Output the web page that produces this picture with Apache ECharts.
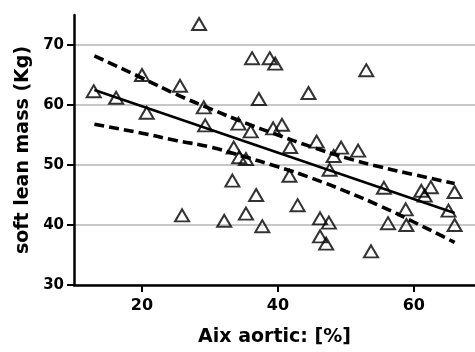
<!DOCTYPE html>
<html>
<head>
<meta charset="utf-8">
<script src="https://cdn.jsdelivr.net/npm/echarts@6/dist/echarts.min.js"></script>
<style>
    html, body { margin: 0; padding: 0; background: #fff; }
    #chart { width: 475px; height: 352px; }
</style>
</head>
<body>
<div id="chart"></div>
<script>
    // measured points: Aix aortic [%] vs soft lean mass [Kg]
    const aix = [12.9, 16.2, 20.0, 20.7, 25.6, 25.9, 28.4, 29.1, 29.3, 32.1,
                 33.3, 33.5, 34.2, 34.3, 35.3, 35.3, 36.0, 36.2, 36.8, 37.2,
                 37.7, 38.8, 39.3, 39.6, 40.6, 41.7, 41.8, 42.9, 44.5, 45.7,
                 46.2, 46.2, 47.1, 47.5, 47.6, 48.2, 49.3, 51.8, 53.0, 53.7,
                 55.6, 56.2, 58.8, 58.9, 61.1, 61.6, 62.5, 65.1, 66.0, 66.0];
    const leanMass = [62.3, 61.2, 65.0, 58.7, 63.2, 41.6, 73.5, 59.6, 56.6, 40.7,
                      47.4, 52.9, 56.9, 51.3, 51.0, 41.9, 55.6, 67.8, 45.0, 61.0,
                      39.8, 67.8, 56.1, 66.9, 56.7, 48.2, 53.0, 43.3, 62.0, 53.9,
                      41.1, 38.1, 36.9, 40.4, 49.2, 51.5, 52.9, 52.4, 65.8, 35.6,
                      46.2, 40.3, 42.6, 40.0, 45.7, 44.9, 46.3, 42.4, 45.5, 40.0];

    // fitted line and 95% band
    const fitX = [13, 66];
    const fitY = [62.5, 42.0];
    const bandX = [13, 20, 25, 30, 35, 40, 45, 50, 55, 60, 66];
    const upperY = [68.2, 64.5, 61.8, 59.4, 57.1, 55.0, 53.0, 51.2, 49.7, 48.4, 46.9];
    const lowerY = [56.8, 55.3, 54.1, 53.0, 51.4, 49.7, 47.8, 45.6, 43.2, 40.5, 37.1];

    const xTicks = [20, 40, 60];
    const yTicks = [30, 40, 50, 60, 70];

    const pairs = (xs, ys) => xs.map((x, i) => [x, ys[i]]);

    let myChart = echarts.init(document.getElementById('chart'));
    let dashStyle = { color: '#000', width: 3.6, type: [10, 5] };
    let option = {
        backgroundColor: '#fff',
        animation: false,
        grid: { left: 74, top: 15, width: 403, height: 274 },
        xAxis: {
            type: 'value',
            min: 10,
            max: 69,
            name: 'Aix aortic: [%]',
            nameLocation: 'middle',
            nameGap: 43,
            nameTextStyle: { fontFamily: 'DejaVu Sans', fontWeight: 'bold', fontSize: 19, color: '#000' },
            axisLine: { lineStyle: { color: '#000', width: 2.5 } },
            axisTick: { length: 7, lineStyle: { color: '#000', width: 2 }, customValues: xTicks },
            axisLabel: {
                customValues: xTicks,
                margin: 13,
                fontFamily: 'DejaVu Sans', fontWeight: 'bold', fontSize: 16, color: '#000'
            },
            splitLine: { show: false }
        },
        yAxis: {
            type: 'value',
            min: 30,
            max: 75,
            interval: 10,
            name: 'soft lean mass (Kg)',
            nameLocation: 'middle',
            nameGap: 39,
            nameTextStyle: { fontFamily: 'DejaVu Sans', fontWeight: 'bold', fontSize: 19, color: '#000' },
            axisLine: { lineStyle: { color: '#000', width: 2.5 } },
            axisTick: { length: 7, lineStyle: { color: '#000', width: 2 }, customValues: yTicks },
            axisLabel: {
                customValues: yTicks,
                margin: 10,
                fontFamily: 'DejaVu Sans', fontWeight: 'bold', fontSize: 15, color: '#000'
            },
            splitLine: {
                lineStyle: {
                    color: ['#b4b4b4', '#b4b4b4', '#b4b4b4', '#b4b4b4', '#b4b4b4', 'rgba(0,0,0,0)'],
                    width: 1.5
                }
            }
        },
        series: [
            {
                type: 'scatter',
                symbol: 'triangle',
                symbolSize: [14, 12],
                itemStyle: { color: 'rgba(255,255,255,0)', borderColor: '#000', borderWidth: 2 },
                data: pairs(aix, leanMass),
                z: 3
            },
            {
                type: 'line',
                data: pairs(fitX, fitY),
                showSymbol: false,
                lineStyle: { color: '#000', width: 2.5 },
                z: 4
            },
            {
                type: 'line',
                data: pairs(bandX, upperY),
                smooth: true,
                showSymbol: false,
                lineStyle: dashStyle,
                z: 4
            },
            {
                type: 'line',
                data: pairs(bandX, lowerY),
                smooth: true,
                showSymbol: false,
                lineStyle: dashStyle,
                z: 4
            }
        ]
    };
    myChart.setOption(option);
</script>
</body>
</html>
